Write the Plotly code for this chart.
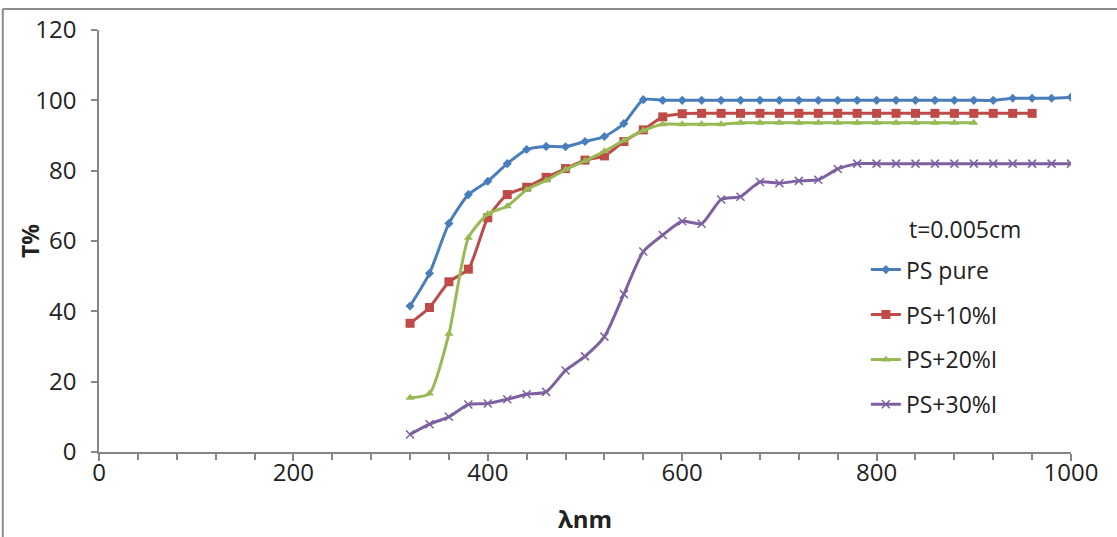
import plotly.graph_objects as go

# Wavelength grid (nm), 20 nm steps
wl_pure = list(range(320, 1001, 20))
wl_10 = list(range(320, 961, 20))
wl_20 = list(range(320, 901, 20))
wl_30 = list(range(320, 1001, 20))

# Transmittance T% for each film
t_pure = [41.5, 50.8, 65.0, 73.2, 77.0, 82.0, 86.0, 86.9, 86.8, 88.3, 89.7, 93.4,
          100.2, 100.0, 100.0, 100.0, 100.0, 100.0, 100.0, 100.0, 100.0, 100.0,
          100.0, 100.0, 100.0, 100.0, 100.0, 100.0, 100.0, 100.0, 100.0, 100.6,
          100.6, 100.6, 100.9]
t_10 = [36.6, 41.1, 48.4, 52.0, 66.6, 73.2, 75.3, 78.1, 80.6, 83.0, 84.2, 88.3,
        91.6, 95.3, 96.2, 96.3, 96.3, 96.3, 96.3, 96.3, 96.3, 96.3, 96.3, 96.3,
        96.3, 96.3, 96.3, 96.3, 96.3, 96.3, 96.3, 96.3, 96.3]
t_20 = [15.4, 16.6, 33.6, 60.9, 67.7, 69.9, 74.6, 77.2, 80.3, 82.8, 85.5, 88.6,
        91.4, 93.2, 93.2, 93.2, 93.2, 93.6, 93.6, 93.6, 93.6, 93.6, 93.6, 93.6,
        93.6, 93.6, 93.6, 93.6, 93.6, 93.6]
t_30 = [5.0, 7.9, 10.0, 13.5, 13.8, 15.0, 16.4, 17.1, 23.2, 27.2, 32.8, 44.9,
        57.0, 61.7, 65.6, 64.9, 71.8, 72.6, 76.8, 76.4, 77.1, 77.4, 80.5, 82.0,
        82.0, 82.0, 82.0, 82.0, 82.0, 82.0, 82.0, 82.0, 82.0, 82.0, 82.0]

names = ["PS pure", "PS+10%I", "PS+20%I", "PS+30%I"]
colors = ["#4A7EBB", "#BE4B48", "#98B954", "#7D60A0"]
symbols = ["diamond", "square", "triangle-up", "x-thin-open"]
sizes = [7, 9, 8, 8]

FONT = "Open Sans"
TXT = "#222222"

fig = go.Figure()
series = [(wl_pure, t_pure), (wl_10, t_10), (wl_20, t_20), (wl_30, t_30)]
for i, (x, y) in enumerate(series):
    marker = dict(symbol=symbols[i], size=sizes[i], color=colors[i])
    if symbols[i].endswith("open"):
        marker["line"] = dict(color=colors[i], width=1.5)
    fig.add_trace(go.Scatter(
        x=x, y=y, name=names[i], mode="lines+markers",
        line=dict(color=colors[i], width=3, shape="spline", smoothing=0.6),
        marker=marker, legendgroup=f"g{i}",
    ))

axis_col = "#868686"
fig.update_layout(
    width=1117, height=537,
    margin=dict(l=99, r=46, t=28, b=85),
    paper_bgcolor="white", plot_bgcolor="white",
    font=dict(family=FONT, size=24, color=TXT),
    showlegend=True,
    legend=dict(
        x=0.789, y=0.483, xanchor="left", yanchor="top",
        bgcolor="rgba(0,0,0,0)",
        font=dict(family=FONT, size=23, color=TXT),
        tracegroupgap=12, traceorder="grouped",
    ),
    xaxis=dict(
        range=[0, 1000], tickmode="linear", tick0=0, dtick=200,
        showgrid=False, zeroline=False,
        showline=True, linecolor=axis_col, linewidth=1.5,
        ticks="outside", ticklen=7, tickcolor=axis_col, tickwidth=1.5,
        minor=dict(dtick=40, ticks="outside", ticklen=6, tickcolor=axis_col, tickwidth=1.5),
        ticklabelstandoff=-9,
        tickfont=dict(family=FONT, size=24, color=TXT),
    ),
    yaxis=dict(
        range=[0, 120], tickmode="linear", tick0=0, dtick=20,
        showgrid=False, zeroline=False,
        showline=True, linecolor=axis_col, linewidth=1.5,
        ticks="outside", ticklen=6, tickcolor=axis_col, tickwidth=1.5,
        ticklabelstandoff=10,
        tickfont=dict(family=FONT, size=24, color=TXT),
    ),
)

# Axis titles
fig.add_annotation(text="<b>λnm</b>", xref="paper", yref="paper", x=0.5, y=-0.158,
                   xanchor="center", yanchor="middle", showarrow=False,
                   font=dict(family=FONT, size=24, color=TXT))
fig.add_annotation(text="<b>T%</b>", xref="paper", yref="paper", x=-0.071, y=0.5,
                   xanchor="center", yanchor="middle", textangle=-90, showarrow=False,
                   font=dict(family=FONT, size=23, color=TXT))

# Legend heading
fig.add_annotation(text="t=0.005cm", xref="paper", yref="paper",
                   x=0.831, y=0.528, xanchor="left", yanchor="middle",
                   showarrow=False, font=dict(family=FONT, size=23, color=TXT))

# Chart frame (left and top edges)
fig.add_shape(type="line", xref="paper", yref="paper", x0=-0.099, x1=-0.099, y0=-0.3, y1=1.05,
              line=dict(color="#8c8c8c", width=2))
fig.add_shape(type="line", xref="paper", yref="paper", x0=-0.099, x1=1.1, y0=1.05, y1=1.05,
              line=dict(color="#8c8c8c", width=2))

fig.write_html("out.html")
